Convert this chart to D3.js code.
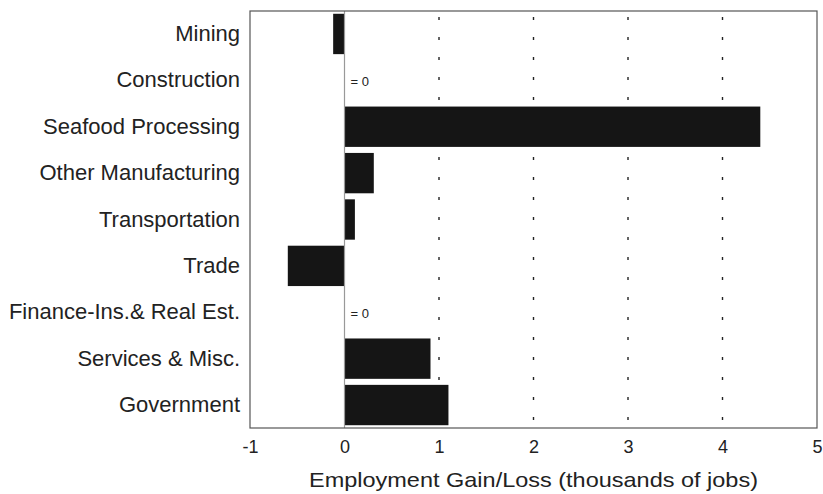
<!DOCTYPE html>
<html>
<head>
<meta charset="utf-8">
<script src="https://cdn.jsdelivr.net/npm/d3@7"></script>
<style>
  body { margin: 0; background: #fff; }
  svg { font-family: "Liberation Sans", Arial, sans-serif; }
</style>
</head>
<body>
<svg id="chart" width="823" height="494"></svg>
<script>
// employment change by sector, thousands of jobs
const sectors = ["Mining", "Construction", "Seafood Processing", "Other Manufacturing",
    "Transportation", "Trade", "Finance-Ins.& Real Est.", "Services & Misc.", "Government"];
const change = [-0.12, 0, 4.4, 0.31, 0.11, -0.6, 0, 0.91, 1.1];
const xTicks = [-1, 0, 1, 2, 3, 4, 5];
const gridTicks = [1, 2, 3, 4];

const svg = d3.select("#chart");
const plotLeft = 250, plotRight = 817, plotTop = 11, plotBottom = 428;

const x = d3.scaleLinear().domain([-1, 5]).range([plotLeft, plotRight]);
const y = d3.scaleBand().domain(sectors).range([plotTop, plotBottom]).paddingInner(0.13).paddingOuter(0.06);

// dotted grid lines
svg.append("g")
    .selectAll("line")
    .data(gridTicks)
    .enter()
    .append("line")
    .attr("x1", d => x(d))
    .attr("x2", d => x(d))
    .attr("y1", plotTop + 6)
    .attr("y2", plotBottom)
    .attr("stroke", "#222")
    .attr("stroke-width", 1.4)
    .attr("stroke-dasharray", "3,17");

// bars
svg.append("g")
    .selectAll("rect")
    .data(change)
    .enter()
    .append("rect")
    .attr("x", d => x(Math.min(0, d)))
    .attr("y", (d, i) => y(sectors[i]))
    .attr("width", d => Math.abs(x(d) - x(0)))
    .attr("height", y.bandwidth())
    .attr("fill", "#151515");

// "= 0" notes for zero bars
svg.append("g")
    .selectAll("text")
    .data(change.map((d, i) => ({d, i})).filter(o => o.d === 0))
    .enter()
    .append("text")
    .attr("x", x(0) + 6)
    .attr("y", o => y(sectors[o.i]) + y.bandwidth() / 2 + 6)
    .attr("font-size", 13)
    .attr("fill", "#222")
    .text("= 0");

// zero line
svg.append("line")
    .attr("x1", x(0)).attr("x2", x(0))
    .attr("y1", plotTop).attr("y2", plotBottom)
    .attr("stroke", "#999")
    .attr("stroke-width", 1.2);

// frame
svg.append("rect")
    .attr("x", plotLeft).attr("y", plotTop)
    .attr("width", plotRight - plotLeft).attr("height", plotBottom - plotTop)
    .attr("fill", "none")
    .attr("stroke", "#555")
    .attr("stroke-width", 1.2);

// x axis
const xAxis = svg.append("g")
    .attr("transform", `translate(0,${plotBottom})`)
    .call(d3.axisBottom(x).tickValues(xTicks).tickSize(0).tickPadding(12).tickFormat(d => String(d)));
xAxis.select(".domain").remove();
xAxis.selectAll("text").attr("font-size", 18).attr("fill", "#222").attr("font-family", "Liberation Sans, Arial, sans-serif");

// y labels
const yAxis = svg.append("g")
    .attr("transform", `translate(${plotLeft - 10},0)`)
    .call(d3.axisLeft(y).tickSize(0).tickPadding(0));
yAxis.select(".domain").remove();
yAxis.selectAll("text").attr("font-size", 22).attr("fill", "#222").attr("font-family", "Liberation Sans, Arial, sans-serif");

// axis title
svg.append("text")
    .attr("x", x(2))
    .attr("y", 487)
    .attr("text-anchor", "middle")
    .attr("font-size", 21)
    .attr("fill", "#222")
    .attr("textLength", 449)
    .attr("lengthAdjust", "spacingAndGlyphs")
    .text("Employment Gain/Loss (thousands of jobs)");
</script>
</body>
</html>
